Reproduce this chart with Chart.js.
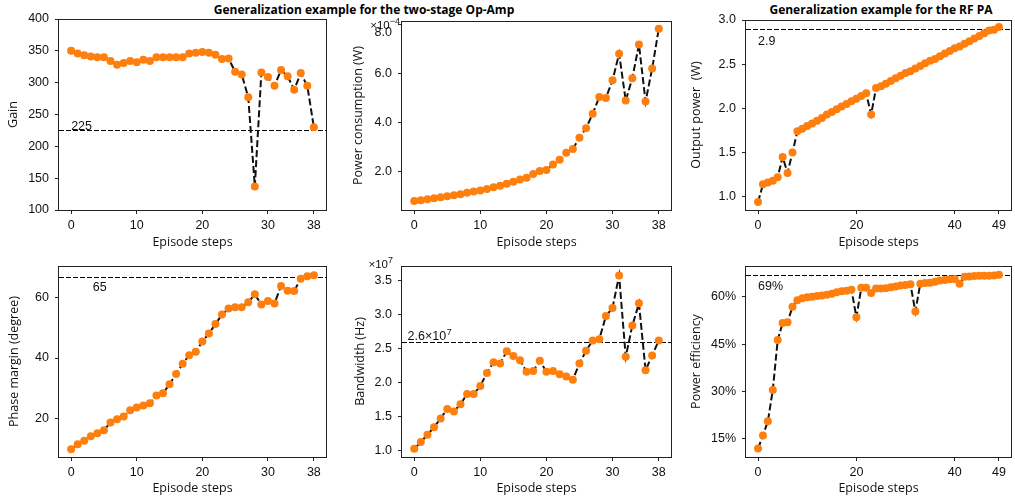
<!DOCTYPE html>
<html>
<head>
<meta charset="utf-8">
<script src="https://cdn.jsdelivr.net/npm/chart.js@4.4.1/dist/chart.umd.min.js"></script>
<style>
  body { margin: 0; width: 1015px; height: 504px; background: #fff; position: relative; overflow: hidden; }
  .panel { position: absolute; }
  .suptitle { position: absolute; font: bold 12px "Open Sans"; color: #000; white-space: nowrap; transform: translateX(-50%); }
</style>
</head>
<body>
<div class="suptitle" style="left:364px; top:1px;">Generalization example for the two-stage Op-Amp</div>
<div class="suptitle" style="left:881px; top:1px;">Generalization example for the RF PA</div>

<div class="panel" style="left:2px; top:0; width:330px; height:254px;"><canvas id="gain"></canvas></div>
<div class="panel" style="left:347px; top:0; width:328px; height:254px;"><canvas id="power"></canvas></div>
<div class="panel" style="left:685px; top:0; width:330px; height:254px;"><canvas id="pout"></canvas></div>
<div class="panel" style="left:3px; top:250px; width:329px; height:250px;"><canvas id="phase"></canvas></div>
<div class="panel" style="left:349px; top:250px; width:326px; height:250px;"><canvas id="bw"></canvas></div>
<div class="panel" style="left:685px; top:250px; width:330px; height:250px;"><canvas id="eff"></canvas></div>

<script>
// episode steps
const opampSteps = [0,1,2,3,4,5,6,7,8,9,10,11,12,13,14,15,16,17,18,19,20,21,22,23,24,25,26,27,28,29,30,31,32,33,34,35,36,37];
const rfSteps = [0,1,2,3,4,5,6,7,8,9,10,11,12,13,14,15,16,17,18,19,20,21,22,23,24,25,26,27,28,29,30,31,32,33,34,35,36,37,38,39,40,41,42,43,44,45,46,47,48,49];

// two-stage op-amp
const gain = [350,346,343,341,340,340,334,328,331,334,332,336,334,340,340,340,340,340,346,347,348,347,344,337,338,317,313,277,137,316,309,295,320,310,289,315,295,230];
const powerE4 = [0.78,0.81,0.85,0.89,0.93,0.97,1.01,1.06,1.12,1.17,1.21,1.27,1.34,1.40,1.48,1.57,1.66,1.73,1.88,2.01,2.05,2.27,2.47,2.75,2.91,3.37,3.76,4.35,5.04,5.00,5.72,6.81,4.89,5.81,7.19,4.85,6.20,7.83];
const phaseMargin = [9.8,11.4,12.6,14.1,15.1,16.1,18.6,19.7,20.6,22.7,23.6,24.3,25.0,27.6,28.3,31.3,34.7,38.1,40.9,42.1,45.5,48.1,51.3,54.4,56.4,56.8,56.8,58.5,61.1,57.7,58.9,58.1,63.9,62.3,62.2,66.3,67.1,67.4];
const bandwidthE7 = [1.02,1.12,1.23,1.34,1.47,1.61,1.57,1.68,1.83,1.83,1.95,2.14,2.30,2.28,2.46,2.39,2.33,2.16,2.17,2.32,2.16,2.17,2.12,2.09,2.04,2.28,2.47,2.62,2.64,2.98,3.10,3.58,2.38,2.84,3.17,2.18,2.40,2.62];

// RF PA
const outputPower = [0.94,1.14,1.16,1.18,1.22,1.45,1.27,1.50,1.74,1.77,1.80,1.83,1.86,1.89,1.93,1.96,1.99,2.02,2.05,2.08,2.11,2.14,2.17,1.93,2.23,2.25,2.28,2.31,2.34,2.37,2.40,2.42,2.45,2.48,2.51,2.54,2.56,2.59,2.62,2.65,2.68,2.70,2.73,2.76,2.79,2.82,2.85,2.88,2.89,2.92];
const efficiency = [12.0,16.1,20.6,30.5,46.3,51.7,51.9,56.8,58.9,59.5,59.8,60.0,60.2,60.4,60.6,60.9,61.4,61.7,61.9,62.2,53.5,62.8,62.8,61.2,62.6,62.6,62.7,63.0,63.2,63.5,63.7,63.9,55.3,64.1,64.3,64.4,64.7,65.1,65.3,65.5,65.6,64.1,66.3,66.4,66.5,66.6,66.6,66.6,66.7,66.9];

// tick labels
const opampXTicks = [0,10,20,30,37];
const opampXLabels = ['0','10','20','30','38'];
const rfXTicks = [0,20,40,49];
const rfXLabels = ['0','20','40','49'];
const gainTicks = [100,150,200,250,300,350,400];
const powerTicks = [2,4,6,8];
const poutTicks = [1.0,1.5,2.0,2.5,3.0];
const phaseTicks = [20,40,60];
const bwTicks = [1.0,1.5,2.0,2.5,3.0,3.5];
const effTicks = [15,30,45,60];

const orange = '#ff7f0e';
const tickFont = { family: 'Liberation Sans', size: 12.5 };
const titleFont = { family: 'Open Sans', size: 12.5 };

const refLine = {
  id: 'refLine',
  beforeDatasetsDraw(chart, args, o) {
    if (o.value === undefined) return;
    const { ctx, chartArea: a, scales: { x, y } } = chart;
    const py = Math.round(y.getPixelForValue(o.value)) + 0.5;
    ctx.save();
    ctx.strokeStyle = '#000';
    ctx.lineWidth = 1;
    ctx.setLineDash([5, 2]);
    ctx.beginPath();
    ctx.moveTo(a.left, py);
    ctx.lineTo(a.right + (o.extend || 0), py);
    ctx.stroke();
    ctx.setLineDash([]);
    ctx.fillStyle = '#111';
    ctx.font = '12.5px "Liberation Sans"';
    const px = x.getPixelForValue(o.textX);
    ctx.fillText(o.text, px, py + o.dy);
    if (o.sup) {
      const w = ctx.measureText(o.text).width;
      ctx.font = '9px "Liberation Sans"';
      ctx.fillText(o.sup, px + w + 0.5, py + o.dy - 5);
    }
    ctx.restore();
  },
  afterDatasetsDraw(chart, args, o) {
    const { ctx, chartArea: a } = chart;
    ctx.save();
    ctx.strokeStyle = '#222';
    ctx.lineWidth = 1;
    ctx.strokeRect(Math.round(a.left) - 0.5, Math.round(a.top) + 0.5, Math.round(a.right - a.left) + 1, Math.round(a.bottom - a.top));
    if (o.offset) {
      ctx.fillStyle = '#111';
      ctx.font = '11.5px "Liberation Sans"';
      const w1 = ctx.measureText(o.offset[0]).width;
      ctx.font = '9px "Liberation Sans"';
      const w2 = ctx.measureText(o.offset[1]).width;
      const x0 = a.left + o.offset[2] - w1 - w2;
      const by = a.top + o.offset[3];
      ctx.font = '11.5px "Liberation Sans"';
      ctx.fillText(o.offset[0], x0, by);
      ctx.font = '9px "Liberation Sans"';
      ctx.fillText(o.offset[1], x0 + w1, by - 5);
    }
    ctx.restore();
  }
};

function makePanel(id, g, p) {
  const pts = p.x.map((v, i) => ({ x: v, y: p.y[i] }));
  const axisGrid = { display: true, drawOnChartArea: false, drawTicks: true, tickLength: 4, tickColor: '#222' };
  return new Chart(document.getElementById(id), {
    type: 'line',
    data: {
      datasets: [{
        data: pts,
        borderColor: '#111',
        borderWidth: 2,
        borderDash: [7, 3],
        tension: 0,
        pointRadius: 4,
        pointBackgroundColor: orange,
        pointBorderWidth: 0,
        clip: 8
      }]
    },
    options: {
      responsive: true,
      maintainAspectRatio: false,
      animation: false,
      events: [],
      layout: { padding: { left: 0, top: g.pt, right: g.pr, bottom: 0 } },
      plugins: { legend: { display: false }, tooltip: { enabled: false }, refLine: p.ref },
      scales: {
        x: {
          type: 'linear',
          min: p.xMin, max: p.xMax,
          afterBuildTicks: (ax) => { ax.ticks = p.xTicks.map(v => ({ value: v })); },
          afterFit: (ax) => { ax.height = g.xh; },
          ticks: { autoSkip: false, maxRotation: 0, padding: 4, color: '#111', font: tickFont,
                   callback: (v, i) => p.xLabels[i] },
          grid: axisGrid,
          border: { display: false },
          title: { display: true, text: 'Episode steps', color: '#111', font: titleFont, padding: { top: 0, bottom: 4 } }
        },
        y: {
          type: 'linear',
          min: p.yMin, max: p.yMax,
          afterBuildTicks: (ax) => { ax.ticks = p.yTicks.map(v => ({ value: v })); },
          afterFit: (ax) => { ax.width = g.yw; },
          ticks: { autoSkip: false, padding: 6, color: '#111', font: tickFont, callback: p.yFmt },
          grid: axisGrid,
          border: { display: false },
          title: { display: true, text: p.yTitle, color: '#111', font: titleFont, padding: { top: 4, bottom: 0 } }
        }
      }
    },
    plugins: [refLine]
  });
}

makePanel('gain', { yw: 57, pt: 19, pr: 6, xh: 44 }, {
  x: opampSteps, y: gain, xMin: -1.85, xMax: 38.85, xTicks: opampXTicks, xLabels: opampXLabels,
  yMin: 100, yMax: 400, yTicks: gainTicks, yFmt: v => String(v), yTitle: 'Gain',
  ref: { value: 225, text: '225', textX: 0, dy: -1 }
});

makePanel('power', { yw: 55, pt: 20, pr: 4, xh: 44 }, {
  x: opampSteps, y: powerE4, xMin: -1.85, xMax: 38.85, xTicks: opampXTicks, xLabels: opampXLabels,
  yMin: 0.41, yMax: 8.15, yTicks: powerTicks, yFmt: v => v === 8 ? ['', v.toFixed(1)] : v.toFixed(1),
  yTitle: 'Power consumption (W)',
  ref: { offset: ['\u00d710', '\u22124', -2, 8] }
});

makePanel('pout', { yw: 61, pt: 20, pr: 1, xh: 44 }, {
  x: rfSteps, y: outputPower, xMin: -2.45, xMax: 51.45, xTicks: rfXTicks, xLabels: rfXLabels,
  yMin: 0.85, yMax: 3.0, yTicks: poutTicks, yFmt: v => v.toFixed(1), yTitle: 'Output power  (W)',
  ref: { value: 2.9, text: '2.9', textX: 0, dy: 15, extend: 1 }
});

makePanel('phase', { yw: 56, pt: 16, pr: 6, xh: 43 }, {
  x: opampSteps, y: phaseMargin, xMin: -1.85, xMax: 38.85, xTicks: opampXTicks, xLabels: opampXLabels,
  yMin: 7.2, yMax: 70.5, yTicks: phaseTicks, yFmt: v => String(v), yTitle: 'Phase margin (degree)',
  ref: { value: 67, text: '65', textX: 3.3, dy: 13.5 }
});

makePanel('bw', { yw: 53, pt: 16, pr: 4, xh: 43 }, {
  x: opampSteps, y: bandwidthE7, xMin: -1.85, xMax: 38.85, xTicks: opampXTicks, xLabels: opampXLabels,
  yMin: 0.90, yMax: 3.72, yTicks: bwTicks, yFmt: v => v.toFixed(1), yTitle: 'Bandwidth (Hz)',
  ref: { value: 2.6, text: '2.6\u00d710', sup: '7', textX: -1, dy: -2.5, offset: ['\u00d710', '7', -9, 1.5] }
});

makePanel('eff', { yw: 61, pt: 16, pr: 1, xh: 43 }, {
  x: rfSteps, y: efficiency, xMin: -2.45, xMax: 51.45, xTicks: rfXTicks, xLabels: rfXLabels,
  yMin: 9.3, yMax: 69.7, yTicks: effTicks, yFmt: v => v + '%', yTitle: 'Power efficiency',
  ref: { value: 66.7, text: '69%', textX: 0, dy: 14.5, extend: 1 }
});
</script>
</body>
</html>
